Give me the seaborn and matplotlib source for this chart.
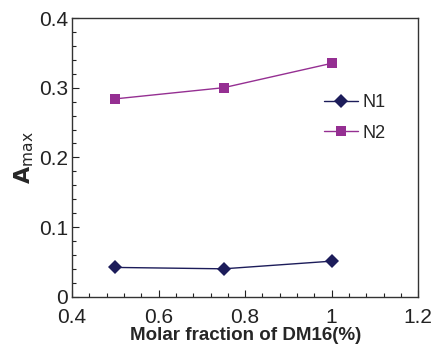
import matplotlib
matplotlib.use("Agg")
import matplotlib.pyplot as plt
from matplotlib.ticker import MultipleLocator
import seaborn as sns
import pandas as pd

# Maximum absorbance versus DM16 molar fraction
molar_fraction = [0.5, 0.75, 1.0]
n1_values = [0.042, 0.040, 0.051]
n2_values = [0.284, 0.300, 0.335]
series_names = ["N1", "N2"]

df = pd.DataFrame({
    "x": molar_fraction * 2,
    "y": n1_values + n2_values,
    "series": [series_names[0]] * 3 + [series_names[1]] * 3,
})

sns.set_theme(style="white")
plt.rcParams["font.family"] = ["Liberation Sans", "DejaVu Sans"]

fig = plt.figure(figsize=(4.32, 3.47), dpi=100)
ax = fig.add_axes([0.167, 0.145, 0.801, 0.803])

palette = {"N1": "#1c1c5a", "N2": "#952f92"}
markers = {"N1": "D", "N2": "s"}
sns.lineplot(data=df, x="x", y="y", hue="series", style="series",
             palette=palette, markers=markers, dashes=False,
             markersize=7.5, linewidth=1.0, markeredgewidth=0, ax=ax)

ax.set_xlim(0.4, 1.2)
ax.set_ylim(0, 0.4)
ax.xaxis.set_minor_locator(MultipleLocator(0.04))
ax.yaxis.set_minor_locator(MultipleLocator(0.02))
ax.set_xticks([0.4, 0.6, 0.8, 1.0, 1.2])
ax.set_xticklabels(["0.4", "0.6", "0.8", "1", "1.2"])
ax.set_yticks([0, 0.1, 0.2, 0.3, 0.4])
ax.set_yticklabels(["0", "0.1", "0.2", "0.3", "0.4"])

ax.tick_params(which="both", direction="in", top=False, right=False,
               bottom=True, left=True, labelsize=15, colors="#222222")
ax.tick_params(which="major", length=5, width=0.8)
ax.tick_params(which="minor", length=3, width=0.8)
ax.tick_params(axis="x", which="major", pad=8)
ax.tick_params(axis="y", which="major", pad=3)
for s in ax.spines.values():
    s.set_color("#333333")
    s.set_linewidth(1.0)

ax.set_xlabel("Molar fraction of DM16(%)", fontsize=13.5, fontweight="bold",
              labelpad=0)
ax.set_ylabel(r"$\mathbf{A}_{\mathrm{max}}$", fontsize=16, labelpad=2)

leg = ax.legend(loc="upper left", bbox_to_anchor=(0.68, 0.785), frameon=False,
                fontsize=13, handlelength=1.9, handletextpad=0.25,
                labelspacing=0.75)
for h in leg.legend_handles:
    h.set_markersize(7.5)

fig.savefig("out.png", dpi=100)
